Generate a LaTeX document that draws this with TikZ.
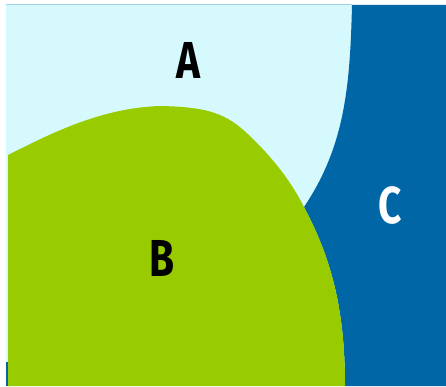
\documentclass[tikz,border=0pt]{standalone}
\usepackage{fontspec}
\newfontfamily\lblfont[FakeStretch=0.78]{Fira Sans}
\definecolor{regA}{HTML}{D5F9FD}
\definecolor{regB}{HTML}{99CC00}
\definecolor{regC}{HTML}{0066A6}
\definecolor{rimA}{HTML}{9CD4EA}
\begin{document}
\begin{tikzpicture}[x=1pt,y=1pt]
	\tikzset{lbl/.style={font=\lblfont\bfseries\fontsize{52}{52}\selectfont,inner sep=0pt}}
	\useasboundingbox (0,0) rectangle (446,386);
	\coordinate (fSW) at (6,0);
	\coordinate (fNE) at (446,381);
	\coordinate (bL) at (8,231);
	\coordinate (bTop) at (160,280);
	\coordinate (bSh) at (255,245);
	\coordinate (jn) at (304,179);
	\coordinate (bcB) at (345,0);
	\coordinate (acT) at (352,381);
	\fill[regA] (fSW) rectangle (fNE);
	\draw[rimA,line width=1pt] (6,381)--(acT);
	% region C
	\fill[regC] (acT)--(446,381)--(446,0)--(bcB)
	   .. controls (345,80) and (330,130) .. (jn)
	   .. controls (345,240) and (350,300) .. (acT)--cycle;
	\fill[regC] (6,0) rectangle (8,24);
	% region B
	\fill[regB] (8,0)--(bL)
	   .. controls (50,252) and (100,278) .. (bTop)
	   .. controls (215,279) and (230,270) .. (bSh)
	   .. controls (275,225) and (292,203) .. (jn)
	   .. controls (330,130) and (345,80) .. (bcB)--cycle;
	\node[lbl,text=black] (labA) at (188,326) {A};
	\node[lbl,text=black] (labB) at (162,128) {B};
	\node[lbl,text=white] (labC) at (390,181) {C};
\end{tikzpicture}
\end{document}
